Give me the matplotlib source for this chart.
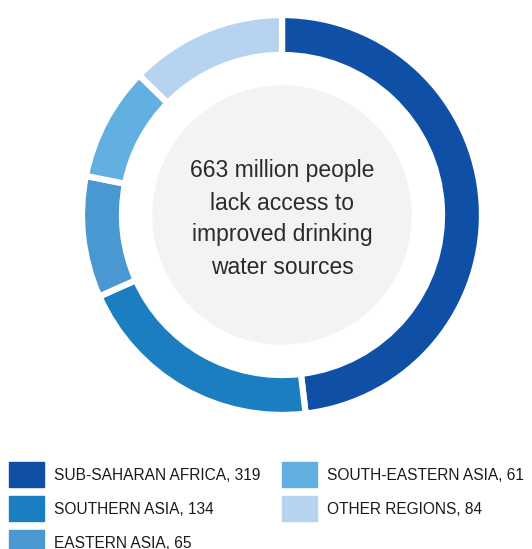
import matplotlib.pyplot as plt
from matplotlib.patches import Circle, Rectangle

plt.rcParams['font.family'] = ['Liberation Sans', 'DejaVu Sans']

regions = ['SUB-SAHARAN AFRICA', 'SOUTHERN ASIA', 'EASTERN ASIA',
           'SOUTH-EASTERN ASIA', 'OTHER REGIONS']
people = [319, 134, 65, 61, 84]
colors = ['#0f50a6', '#1a7ec1', '#4a98d2', '#62b0e1', '#b6d4ef']
center_text = '663 million people\nlack access to\nimproved drinking\nwater sources'

fig = plt.figure(figsize=(5.32, 5.49), dpi=100)

# donut
ax = fig.add_axes([82 / 532, 1 - 415 / 549, 400 / 532, 400 / 549])
ax.pie(people, colors=colors, startangle=90, counterclock=False,
       radius=1.0, wedgeprops=dict(width=0.2, edgecolor='white', linewidth=4.5))
ax.add_patch(Circle((0, 0), 0.645, color='#f3f3f3', zorder=3))
ax.text(0, -0.02, center_text, ha='center', va='center', fontsize=16.5,
        color='#2b2b2b', linespacing=1.5, zorder=4)
ax.set_xlim(-1, 1)
ax.set_ylim(-1, 1)
ax.set_aspect('equal')
ax.axis('off')

# legend
leg = fig.add_axes([0, 0, 1, 1])
leg.set_xlim(0, 532)
leg.set_ylim(549, 0)
leg.axis('off')
cols = [9, 282]
for i, (name, val) in enumerate(zip(regions, people)):
    col = 0 if i < 3 else 1
    row = i if i < 3 else i - 3
    x0 = cols[col]
    y0 = 462 + row * 34
    leg.add_patch(Rectangle((x0, y0), 35, 25, color=colors[i]))
    leg.text(x0 + 45, y0 + 13, f'{name}, {val}', ha='left', va='center',
             fontsize=11.2, color='#1a1a1a')

fig.savefig('out.png', dpi=100)
